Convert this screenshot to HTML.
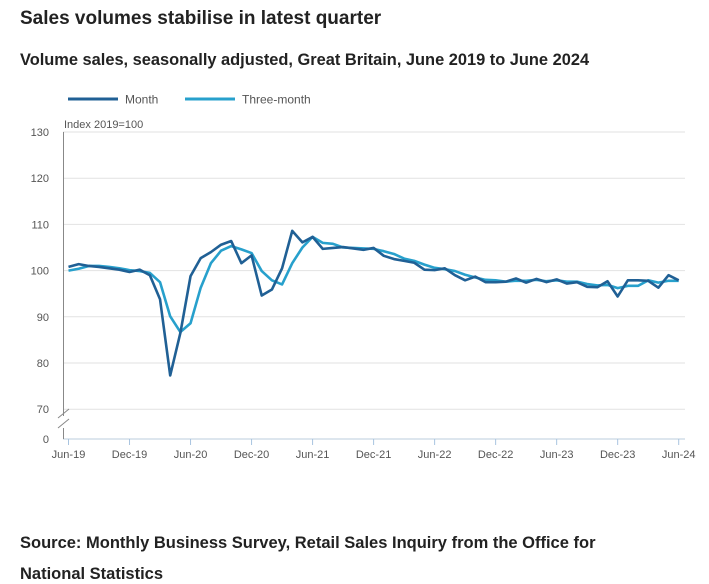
<!DOCTYPE html>
<html><head><meta charset="utf-8"><style>
body{margin:0;background:#fff;font-family:"Liberation Sans",sans-serif;color:#222}
.t{position:absolute;left:20px;font-weight:bold;font-size:17px;color:#222}
</style></head><body>
<div style="position:relative;width:709px;height:584px;overflow:hidden">
<div class="t" style="top:8px;font-size:19px">Sales volumes stabilise in latest quarter</div>
<div class="t" style="top:51px;font-size:16.4px">Volume sales, seasonally adjusted, Great Britain, June 2019 to June 2024</div>
<div class="t" style="top:528px;font-size:16.5px;line-height:31px">Source: Monthly Business Survey, Retail Sales Inquiry from the Office for<br>National Statistics</div>
<svg id="c" width="709" height="584" style="position:absolute;left:0;top:0" font-family="Liberation Sans, sans-serif"></svg>
</div>
<script>
const yTicks=[70,80,90,100,110,120,130];
const xLabels=["Jun-19","Dec-19","Jun-20","Dec-20","Jun-21","Dec-21","Jun-22","Dec-22","Jun-23","Dec-23","Jun-24"];
const seriesNames=["Month","Three-month"];
const monthValues=[100.8,101.4,101.0,100.8,100.5,100.2,99.7,100.2,99.0,93.8,77.3,86.5,98.8,102.7,104.0,105.6,106.4,101.6,103.3,94.6,95.9,100.5,108.6,106.1,107.3,104.7,104.9,105.1,104.8,104.5,104.9,103.2,102.5,102.1,101.7,100.2,100.1,100.5,99.0,97.9,98.7,97.5,97.5,97.6,98.3,97.4,98.2,97.5,98.1,97.2,97.5,96.5,96.4,97.7,94.4,97.9,97.9,97.8,96.3,99.0,97.9];
const threeMonthValues=[100.0,100.4,101.0,101.0,100.8,100.5,100.1,99.9,99.5,97.5,90.1,86.7,88.6,96.3,101.6,104.3,105.3,104.6,103.8,99.9,97.9,97.0,101.6,105.0,107.3,106.0,105.8,105.0,104.9,104.8,104.7,104.2,103.6,102.6,102.1,101.3,100.6,100.3,99.9,99.1,98.5,98.0,97.9,97.6,97.8,97.8,98.0,97.7,97.9,97.6,97.6,97.1,96.8,96.9,96.2,96.7,96.7,97.9,97.4,97.8,97.8];
const colors=["#206095","#27a0cc"];
const svg=document.getElementById('c');const NS="http://www.w3.org/2000/svg";
function mk(t,a,p){const e=document.createElementNS(NS,t);for(const k in a)e.setAttribute(k,a[k]);(p||svg).appendChild(e);return e;}
const x=i=>68.5+i*10.17;
const y=v=>270.6-(v-100)*4.62;
yTicks.forEach(v=>{
 const l=mk('line',{x1:63,x2:685,y1:y(v),y2:y(v),stroke:'#e2e2e2'});
 
 
 const t=mk('text',{x:49,y:y(v)+4,'text-anchor':'end','font-size':11,fill:'#555'});t.textContent=v;
 
 
});
const z=mk('text',{x:49,y:443,'text-anchor':'end','font-size':11,fill:'#555'});z.textContent='0';


mk('line',{x1:63,x2:685,y1:439,y2:439,stroke:'#bcd'});
mk('line',{x1:63.5,x2:63.5,y1:132,y2:416,stroke:'#888'});
mk('line',{x1:63.5,x2:63.5,y1:428,y2:439,stroke:'#888'});
mk('line',{x1:58,x2:69,y1:418,y2:409,stroke:'#888'});
mk('line',{x1:58,x2:69,y1:428,y2:419,stroke:'#888'});
const yt=mk('text',{x:64,y:128,'font-size':11,fill:'#555'});yt.textContent='Index 2019=100';


xLabels.forEach((s,k)=>{
 const xx=x(k*6);
 mk('line',{x1:xx,x2:xx,y1:439,y2:445,stroke:'#a8c4e0'});
 const t=mk('text',{x:xx,y:458,'text-anchor':'middle','font-size':11,fill:'#555'});t.textContent=s;
 
 
});
[threeMonthValues,monthValues].forEach((d,j)=>{
 const c=j?colors[0]:colors[1];
 const p=mk('polyline',{points:d.map((v,i)=>x(i)+','+y(v)).join(' '),fill:'none',stroke:c,'stroke-width':2.6,'stroke-linejoin':'round'});
 
 
});
seriesNames.forEach((n,k)=>{
 const lx=k?185:68;
 const g=mk('g',{});
 
 
 mk('line',{x1:lx,x2:lx+50,y1:99,y2:99,stroke:colors[k],'stroke-width':3},g);
 const t=mk('text',{x:lx+57,y:103.5,'font-size':12,fill:'#555'},g);t.textContent=n;
});
</script>
</body></html>
